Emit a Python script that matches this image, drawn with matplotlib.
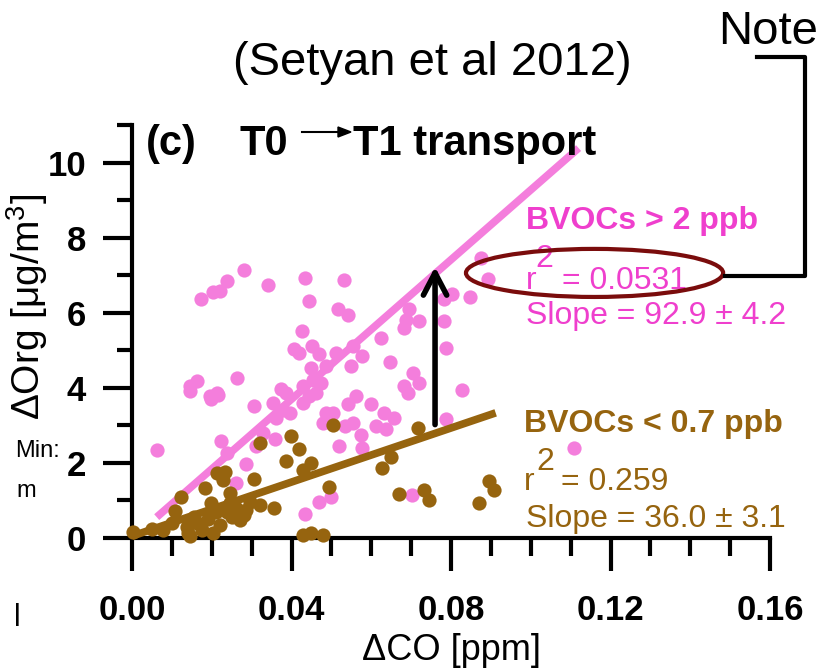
import numpy as np
import matplotlib.pyplot as plt
from matplotlib.patches import Ellipse
from matplotlib.lines import Line2D
from matplotlib.ticker import MultipleLocator, FormatStrFormatter

plt.rcParams['font.family'] = ['Liberation Sans', 'DejaVu Sans']
plt.rcParams['mathtext.fontset'] = 'custom'
plt.rcParams['mathtext.rm'] = 'Liberation Sans'

# delta CO [ppm] vs delta Org [ug/m3], high-BVOC points
pink_x = [0.0062, 0.0145, 0.0145, 0.0162, 0.0173, 0.0195, 0.0199, 0.0203, 0.0213, 0.0216,
          0.0220, 0.0222, 0.0237, 0.0239, 0.0262, 0.0264, 0.0281, 0.0285, 0.0305, 0.0312,
          0.0328, 0.0341, 0.0353, 0.0359, 0.0362, 0.0374, 0.0378, 0.0387, 0.0395, 0.0406,
          0.0420, 0.0427, 0.0428, 0.0428, 0.0434, 0.0435, 0.0445, 0.0445, 0.0449, 0.0452,
          0.0453, 0.0462, 0.0468, 0.0470, 0.0474, 0.0478, 0.0487, 0.0487, 0.0499, 0.0503,
          0.0512, 0.0516, 0.0520, 0.0531, 0.0533, 0.0541, 0.0541, 0.0549, 0.0553, 0.0553,
          0.0562, 0.0574, 0.0578, 0.0578, 0.0599, 0.0612, 0.0624, 0.0633, 0.0637, 0.0647,
          0.0658, 0.0683, 0.0683, 0.0687, 0.0691, 0.0695, 0.0701, 0.0705, 0.0720, 0.0720,
          0.0783, 0.0783, 0.0787, 0.0788, 0.0803, 0.0827, 0.0848, 0.0874, 0.0893, 0.1109]
pink_y = [2.35, 3.91, 4.05, 4.18, 6.36, 3.78, 3.69, 6.54, 3.87, 3.82,
          6.59, 2.58, 2.26, 6.85, 1.46, 4.27, 7.15, 1.98, 3.51, 2.44,
          2.80, 6.74, 3.60, 2.64, 3.20, 3.96, 3.42, 3.87, 3.33, 5.03,
          4.92, 5.52, 4.05, 3.60, 0.64, 6.93, 6.30, 3.78, 4.54, 5.12,
          4.22, 3.87, 4.89, 0.97, 4.14, 3.07, 3.33, 4.58, 1.10, 3.33,
          4.94, 6.10, 2.44, 6.86, 2.98, 5.94, 3.56, 4.58, 5.12, 3.07,
          3.78, 2.75, 4.85, 2.40, 3.56, 2.98, 5.34, 3.33, 2.89, 4.70,
          3.20, 5.58, 4.05, 5.80, 3.87, 6.10, 1.15, 4.40, 5.78, 4.14,
          6.36, 5.78, 5.05, 3.17, 6.50, 3.94, 6.43, 7.45, 6.90, 2.40]

# low-BVOC points
brown_x = [0.0003, 0.0050, 0.0078, 0.0100, 0.0108, 0.0124, 0.0137, 0.0141, 0.0145, 0.0155,
           0.0162, 0.0175, 0.0183, 0.0190, 0.0199, 0.0203, 0.0210, 0.0212, 0.0220, 0.0228,
           0.0233, 0.0237, 0.0245, 0.0245, 0.0250, 0.0260, 0.0270, 0.0280, 0.0287, 0.0295,
           0.0305, 0.0320, 0.0320, 0.0356, 0.0387, 0.0399, 0.0418, 0.0428, 0.0428, 0.0449,
           0.0449, 0.0478, 0.0495, 0.0503, 0.0628, 0.0649, 0.0670, 0.0716, 0.0733, 0.0745,
           0.0870, 0.0895, 0.0909]
brown_y = [0.17, 0.25, 0.21, 0.40, 0.73, 1.10, 0.30, 0.13, 0.04, 0.55,
           0.39, 0.20, 1.32, 0.50, 0.93, 0.13, 0.70, 1.73, 0.35, 1.55,
           1.75, 0.70, 1.19, 0.93, 0.55, 0.80, 0.48, 0.60, 0.75, 0.95,
           1.57, 2.52, 0.88, 0.79, 2.05, 2.71, 2.38, 1.82, 0.08, 2.00,
           0.13, 0.08, 1.37, 3.02, 1.86, 2.17, 1.18, 2.92, 1.28, 1.02,
           0.93, 1.51, 1.28]

# fits: slope, intercept, x range
pink_slope, pink_icept, pink_xr = 92.9, -0.02, [0.0062, 0.112]
brown_slope, brown_icept, brown_xr = 36.0, 0.05, [0.0, 0.0912]

pink_pt = '#f47edc'
pink_txt = '#ef3fcd'
brown = '#96640f'

W, H = 836, 669
fig = plt.figure(figsize=(W / 100, H / 100), dpi=100)

def fx(px):
    return px / W

def fy(py):
    return 1 - py / H

ax = fig.add_axes([fx(132), fy(538), (770 - 132) / W, (538 - 125) / H])
ax.set_xlim(0, 0.16)
ax.set_ylim(0, 11)

ax.scatter(pink_x, pink_y, s=105, color=pink_pt, lw=0, zorder=3, clip_on=False)
lx = np.array(pink_xr)
ax.plot(lx, pink_slope * lx + pink_icept, color=pink_pt, lw=5.5, solid_capstyle='butt',
        zorder=4, clip_on=False)
ax.scatter(brown_x, brown_y, s=105, color=brown, lw=0, zorder=5, clip_on=False)
lx = np.array(brown_xr)
ax.plot(lx, brown_slope * lx + brown_icept, color=brown, lw=5.5, solid_capstyle='butt',
        zorder=6, clip_on=False)

for s in ['top', 'right']:
    ax.spines[s].set_visible(False)
for s in ['left', 'bottom']:
    ax.spines[s].set_linewidth(3)
    ax.spines[s].set_zorder(2)

ax.xaxis.set_major_locator(MultipleLocator(0.04))
ax.xaxis.set_minor_locator(MultipleLocator(0.01))
ax.xaxis.set_major_formatter(FormatStrFormatter('%.2f'))
ax.yaxis.set_major_locator(MultipleLocator(2))
ax.yaxis.set_minor_locator(MultipleLocator(1))
ax.tick_params(axis='y', which='major', length=21, width=3, pad=12, labelsize=25)
ax.tick_params(axis='y', which='minor', length=11, width=3)
ax.tick_params(axis='x', which='major', length=24, width=3, pad=16, labelsize=25)
ax.tick_params(axis='x', which='minor', length=13, width=3)
for lab in ax.get_xticklabels() + ax.get_yticklabels():
    lab.set_fontweight('bold')

# fit annotations
ax.text(0.0988, 8.24, 'BVOCs > 2 ppb', color=pink_txt, fontsize=23, fontweight='bold')
ax.text(0.0988, 6.63, 'r', color=pink_txt, fontsize=23)
ax.text(0.10125, 7.22, '2', color=pink_txt, fontsize=23)
ax.text(0.10775, 6.63, '= 0.0531', color=pink_txt, fontsize=23)
ax.text(0.0988, 5.70, 'Slope = 92.9 \u00b1 4.2', color=pink_txt, fontsize=23)

ax.text(0.0983, 2.81, 'BVOCs < 0.7 ppb', color=brown, fontsize=23, fontweight='bold')
ax.text(0.0983, 1.28, 'r', color=brown, fontsize=23)
ax.text(0.1013, 1.82, '2', color=brown, fontsize=23)
ax.text(0.1075, 1.28, '= 0.259', color=brown, fontsize=23)
ax.text(0.0988, 0.29, 'Slope = 36.0 \u00b1 3.1', color=brown, fontsize=23)

# upward shift between the two fits
ax.annotate('', xy=(0.076, 7.22), xytext=(0.076, 3.02),
            arrowprops=dict(arrowstyle='->,head_length=0.8,head_width=0.42', lw=4,
                            color='k', mutation_scale=20, shrinkA=0, shrinkB=0),
            zorder=7)

ax.add_patch(Ellipse((0.116, 7.06), width=0.0645, height=1.28, fill=False,
                     ec='#7a0c0c', lw=3, zorder=8, clip_on=False))

# callout from the ellipse to the note
fig.add_artist(Line2D([fx(725), fx(805), fx(805), fx(757)],
                      [fy(276), fy(276), fy(57), fy(57)], color='k', lw=3))
fig.text(fx(718), fy(44), 'Note', fontsize=34, va='baseline')
fig.text(fx(432), fy(75), '(Setyan et al 2012)', fontsize=34, ha='center', va='baseline')

# panel title
fig.text(fx(146), fy(155), '(c)', fontsize=30, fontweight='bold', va='baseline')
fig.text(fx(240), fy(155), 'T0', fontsize=30, fontweight='bold', va='baseline')
fig.add_artist(plt.Line2D([fx(302), fx(342)], [fy(132), fy(132)], color='k', lw=1.5))
fig.patches.append(plt.Polygon([[fx(338), fy(127)], [fx(351), fy(132)], [fx(338), fy(137)]],
                               closed=True, color='k', transform=fig.transFigure, figure=fig))
fig.text(fx(353), fy(155), 'T1 transport', fontsize=30, fontweight='bold', va='baseline')

# axis labels
fig.text(fx(451), fy(660), '\u0394CO [ppm]', fontsize=26, ha='center', va='baseline')
fig.text(fx(50), fy(307), '\u0394Org [\u03bcg/m$^{3}$]', fontsize=28, rotation=90,
         ha='right', va='center')

# leftover fragments at the left edge
fig.text(fx(15), fy(457), 'Min:', fontsize=17, va='baseline')
fig.text(fx(16), fy(497), 'm', fontsize=17, va='baseline')
fig.text(fx(14), fy(626), 'l', fontsize=22, va='baseline')

fig.savefig('out.png', dpi=100)
